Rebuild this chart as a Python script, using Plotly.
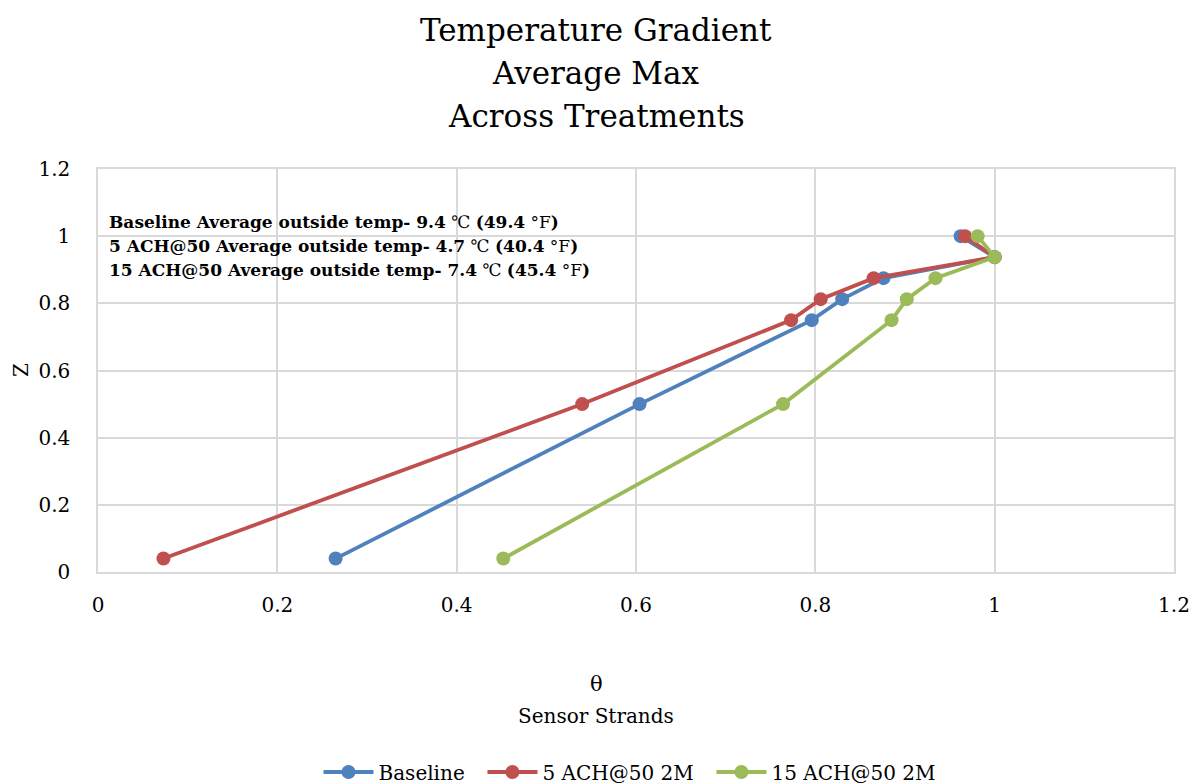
import plotly.graph_objects as go

z = [0.04, 0.5, 0.75, 0.8125, 0.875, 0.9375, 1.0]
baseline = [0.265, 0.604, 0.796, 0.830, 0.876, 1.0, 0.962]
ach5 = [0.073, 0.540, 0.773, 0.806, 0.865, 1.0, 0.967]
ach15 = [0.452, 0.764, 0.885, 0.902, 0.934, 1.0, 0.981]

series = [
    ("Baseline", baseline, "#4f81bd"),
    ("5 ACH@50 2M", ach5, "#c0504d"),
    ("15 ACH@50 2M", ach15, "#9bbb59"),
]
x_ticks = [0, 0.2, 0.4, 0.6, 0.8, 1, 1.2]
y_ticks = [0, 0.2, 0.4, 0.6, 0.8, 1, 1.2]
title_lines = ["Temperature Gradient", "Average Max", "Across Treatments"]

FONT = "DejaVu Serif"
W, H = 1193, 784
L, R, T, B = 98, 19, 169, 212
PH = H - T - B


def py(pix):
    """pixel y (from top) -> paper y"""
    return (H - B - pix) / PH


fig = go.Figure()
for name, vals, col in series:
    fig.add_trace(go.Scatter(
        x=vals, y=z, name=name + "\u00a0\u00a0", mode="lines+markers",
        line=dict(color=col, width=3.8),
        marker=dict(color=col, size=14),
    ))

fig.update_layout(
    width=W, height=H,
    paper_bgcolor="white", plot_bgcolor="white",
    margin=dict(l=L, r=R, t=T, b=B, autoexpand=False),
    font=dict(family=FONT, color="#000000", size=20),
    showlegend=True,
    legend=dict(orientation="h", x=0.5, xanchor="center", y=py(772), yanchor="middle",
                font=dict(family=FONT, size=20), itemwidth=50, tracegroupgap=0),
)
fig.update_xaxes(
    range=[0, 1.2], tickvals=x_ticks, ticktext=[f"{v:g}" for v in x_ticks],
    showgrid=True, gridcolor="#d9d9d9", gridwidth=1.5,
    showline=True, linecolor="#d9d9d9", linewidth=1.5, mirror=True,
    zeroline=False, ticks="", ticklabelstandoff=14, automargin=False,
    tickfont=dict(family=FONT, size=20),
)
fig.update_yaxes(
    range=[0, 1.2], tickvals=y_ticks, ticktext=[f"{v:g}" for v in y_ticks],
    showgrid=True, gridcolor="#d9d9d9", gridwidth=1.5,
    showline=True, linecolor="#d9d9d9", linewidth=1.5, mirror=True,
    zeroline=False, ticks="", ticklabelstandoff=22, automargin=False,
    tickfont=dict(family=FONT, size=20),
)

# title lines
for line, pix in zip(title_lines, [30, 73, 116]):
    fig.add_annotation(text=line, xref="paper", yref="paper", x=(596 - L) / (W - L - R),
                       y=py(pix), xanchor="center", yanchor="middle", showarrow=False,
                       font=dict(family=FONT, size=31))

# axis titles
fig.add_annotation(text="θ", xref="paper", yref="paper", x=(596 - L) / (W - L - R),
                   y=py(684), xanchor="center", yanchor="middle", showarrow=False,
                   font=dict(family=FONT, size=21))
fig.add_annotation(text="Sensor Strands", xref="paper", yref="paper", x=(596 - L) / (W - L - R),
                   y=py(716), xanchor="center", yanchor="middle", showarrow=False,
                   font=dict(family=FONT, size=20))
fig.add_annotation(text="Z", xref="paper", yref="paper", x=(21 - L) / (W - L - R), y=py(370),
                   xanchor="center", yanchor="middle", textangle=-90, showarrow=False,
                   font=dict(family=FONT, size=20))

notes = [
    ("Baseline Average outside temp- 9.4", "49.4"),
    ("5 ACH@50 Average outside temp- 4.7", "40.4"),
    ("15 ACH@50 Average outside temp- 7.4", "45.4"),
]
for (a, f), pix in zip(notes, [222, 246, 270]):
    fig.add_annotation(text=f"<b>{a}</b> ℃ <b>({f}</b> °F<b>)</b>", xref="paper", yref="paper",
                       x=(107 - L) / (W - L - R), y=py(pix),
                       xanchor="left", yanchor="middle", align="left", showarrow=False,
                       font=dict(family=FONT, size=17))

fig.write_html("out.html")
